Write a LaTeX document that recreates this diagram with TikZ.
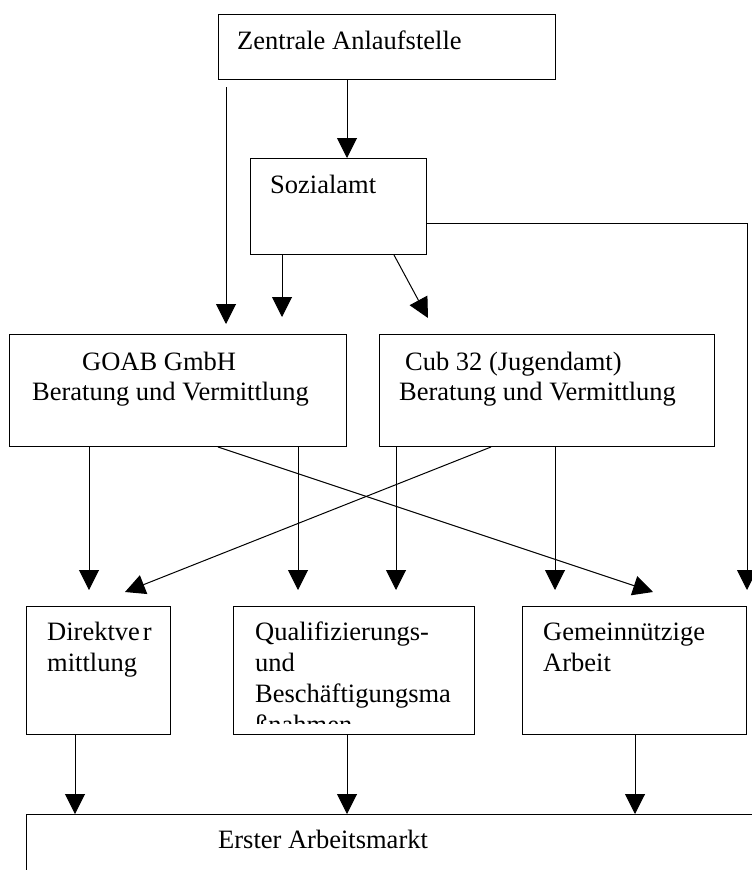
\documentclass[tikz,border=0pt]{standalone}
\usepackage{fontspec}
\setmainfont{Liberation Serif}
\usetikzlibrary{arrows.meta,positioning}

\begin{document}
\begin{tikzpicture}[x=1pt,y=-1pt,
    box/.style={draw, line width=1pt, rectangle, inner sep=0pt, anchor=north west},
    txt/.style={anchor=north west, inner sep=0pt, align=left,
                font=\fontsize{26.5}{30}\selectfont},
    lowtxt/.style={txt, font=\fontsize{26.5}{31}\selectfont},
    arr/.style={-{Triangle[length=20pt,width=20pt]}, line width=1pt}]
  \useasboundingbox (0,0) rectangle (752,870);
  \clip (0,0) rectangle (752,870);

  % Zentrale Anlaufstelle
  \node[box, minimum width=337pt, minimum height=65pt] (zentrale) at (218,14) {};
  \node[txt] (zentraleT) at ([xshift=19pt,yshift=-14pt]zentrale.north west)
    {\strut Zentrale Anlaufstelle};
  % Sozialamt
  \node[box, minimum width=176pt, minimum height=96pt] (sozial) at (250,158) {};
  \node[txt] (sozialT) at ([xshift=20pt,yshift=-14pt]sozial.north west)
    {\strut Sozialamt};
  % GOAB box
  \node[box, minimum width=337pt, minimum height=112pt] (goab) at (9,334) {};
  \node[txt] (goabT) at ([xshift=23pt,yshift=-15pt]goab.north west)
    {\strut\hspace*{50pt}GOAB GmbH\\\strut Beratung und Vermittlung};
  % Cub 32 box
  \node[box, minimum width=335pt, minimum height=112pt] (cub) at (379,334) {};
  \node[txt] (cubT) at ([xshift=20pt,yshift=-15pt]cub.north west)
    {\strut\hspace*{6pt}Cub 32 (Jugendamt)\\\strut Beratung und Vermittlung};
  % lower row
  \node[box, minimum width=144pt, minimum height=128pt] (direkt) at (26,606) {};
  \node[lowtxt] (direktT) at ([xshift=21pt,yshift=-12.3pt]direkt.north west)
    {\strut Direktve\kern3pt r\\\strut mittlung};
  \node[box, minimum width=241pt, minimum height=128pt] (qualif) at (233,606) {};
  \begin{scope}
    \clip (qualif.north west) rectangle ([yshift=12pt]qualif.south east);
    \node[lowtxt] (qualifT) at ([xshift=22pt,yshift=-12.3pt]qualif.north west)
      {\strut Qualifizierungs-\\\strut und\\\strut Beschäftigungsma\\\strut ßnahmen};
  \end{scope}
  \node[box, minimum width=224pt, minimum height=128pt] (gemein) at (522,606) {};
  \node[lowtxt] (gemeinT) at ([xshift=21pt,yshift=-12.3pt]gemein.north west)
    {\strut Gemeinnützige\\\strut Arbeit};
  % Erster Arbeitsmarkt
  \node[box, minimum width=800pt, minimum height=100pt] (erster) at (26,814) {};
  \node[txt] (ersterT) at ([xshift=192pt,yshift=-13pt]erster.north west)
    {\strut Erster Arbeitsmarkt};

  % Arrows from the top
  \draw[arr] ([xshift=129pt]zentrale.south west) -- ([xshift=97pt]sozial.north west);
  \draw[arr] ([xshift=8pt,yshift=-7pt]zentrale.south west)
    -- ([xshift=217pt,yshift=10pt]goab.north west);
  \draw[arr] ([xshift=32pt]sozial.south west) -- ([xshift=273pt,yshift=17pt]goab.north west);
  \draw[arr] ([xshift=144pt]sozial.south west) -- ([xshift=49pt,yshift=16pt]cub.north west);
  \draw[arr] ([yshift=32pt]sozial.south east) -| ([yshift=16pt]gemein.north east);
  % Arrows from GOAB and Cub 32
  \draw[arr] ([xshift=80pt]goab.south west) -- ([xshift=63pt,yshift=16pt]direkt.north west);
  \draw[arr] ([xshift=289pt]goab.south west) -- ([xshift=65pt,yshift=16pt]qualif.north west);
  \draw[arr] ([xshift=209pt]goab.south west) -- ([xshift=131pt,yshift=14pt]gemein.north west);
  \draw[arr] ([xshift=17pt]cub.south west) -- ([xshift=163pt,yshift=16pt]qualif.north west);
  \draw[arr] ([xshift=176pt]cub.south west) -- ([xshift=33pt,yshift=16pt]gemein.north west);
  \draw[arr] ([xshift=112pt]cub.south west) -- ([xshift=99pt,yshift=14pt]direkt.north west);
  % Arrows to Erster Arbeitsmarkt
  \draw[arr] ([xshift=49pt]direkt.south west) -- ([xshift=49pt]erster.north west);
  \draw[arr] ([xshift=114pt]qualif.south west) -- ([xshift=321pt]erster.north west);
  \draw[arr] ([xshift=113pt]gemein.south west) -- ([xshift=609pt]erster.north west);
\end{tikzpicture}
\end{document}
